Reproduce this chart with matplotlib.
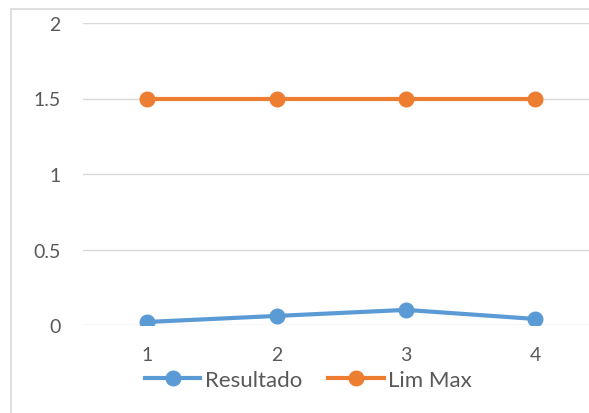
import matplotlib.pyplot as plt
from matplotlib.patches import Rectangle

categorias = [1, 2, 3, 4]
resultado = [0.02, 0.06, 0.10, 0.04]
lim_max = [1.5, 1.5, 1.5, 1.5]

plt.rcParams['font.family'] = ['Lato', 'DejaVu Sans']

W, H = 589, 414
fig = plt.figure(figsize=(W / 100, H / 100), dpi=100)
fig.patch.set_facecolor('white')

# chart frame (cropped on the right and bottom)
fig.patches.append(Rectangle((11 / W, -0.1), 1.2, 1 - 10 / H + 0.1, transform=fig.transFigure,
                             fill=False, edgecolor='#d9d9d9', linewidth=1.2))

ax = fig.add_axes([82.5 / W, 1 - 326 / H, 517.5 / W, (326 - 24) / H])
ax.plot(categorias, resultado, color='#5b9bd5', lw=3, marker='o', ms=10.5, label='Resultado')
ax.plot(categorias, lim_max, color='#ed7d31', lw=3, marker='o', ms=10.5, label='Lim Max')

ax.set_xlim(0.5, 4.5)
ax.set_ylim(0, 2)
ax.set_yticks([0, 0.5, 1, 1.5, 2])
ax.set_yticklabels(['0', '0.5', '1', '1.5', '2'])
ax.set_xticks(categorias)
ax.tick_params(length=0, labelsize=14, labelcolor='#595959')
ax.tick_params(axis='y', pad=16)
ax.tick_params(axis='x', pad=15)
ax.grid(axis='y', color='#d9d9d9', lw=1)
ax.set_axisbelow(True)
for s in ax.spines.values():
    s.set_visible(False)

fig.legend(loc='center', bbox_to_anchor=(308.5 / W, 1 - 381 / H), ncol=2, frameon=False,
           fontsize=16, labelcolor='#595959', handlelength=2.5, handletextpad=0.22,
           columnspacing=1.15, borderaxespad=0, borderpad=0)

fig.savefig('out.png', dpi=100)
